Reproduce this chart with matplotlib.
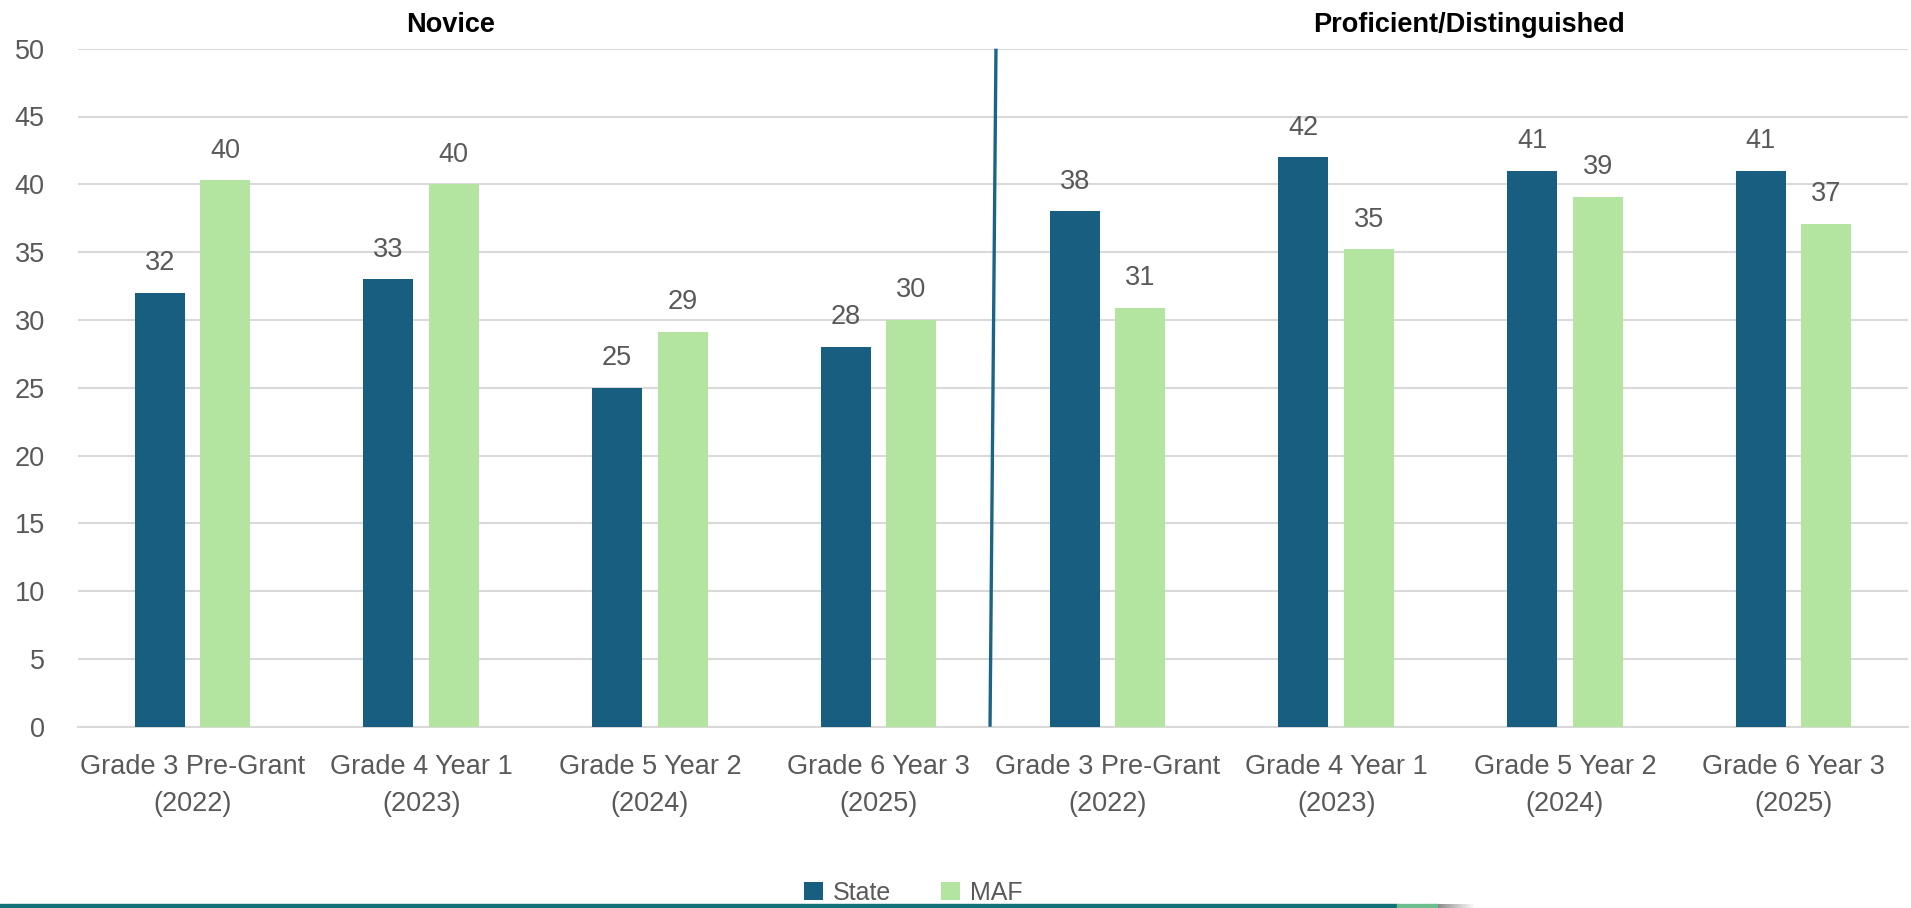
import matplotlib
matplotlib.use("Agg")
import matplotlib.pyplot as plt
from matplotlib import font_manager
from matplotlib.patches import Rectangle
import numpy as np

categories = ["Grade 3 Pre-Grant\n(2022)", "Grade 4 Year 1\n(2023)", "Grade 5 Year 2\n(2024)", "Grade 6 Year 3\n(2025)",
              "Grade 3 Pre-Grant\n(2022)", "Grade 4 Year 1\n(2023)", "Grade 5 Year 2\n(2024)", "Grade 6 Year 3\n(2025)"]
state_values = [32, 33, 25, 28, 38, 42, 41, 41]
maf_values = [40.3, 40, 29.1, 30, 30.9, 35.2, 39.1, 37.1]
series_names = ["State", "MAF"]
group_titles = ["Novice", "Proficient/Distinguished"]
yticks = [0, 5, 10, 15, 20, 25, 30, 35, 40, 45, 50]

available = {f.name for f in font_manager.fontManager.ttflist}
narrow = "Liberation Sans Narrow" if "Liberation Sans Narrow" in available else "Liberation Sans"
plt.rcParams['font.family'] = [narrow, 'DejaVu Sans']

STATE_C = "#175E80"
MAF_C = "#B3E5A1"
TXT = "#595959"
GRID = "#D9D9D9"

fig = plt.figure(figsize=(19.11, 9.08), dpi=100)
ax = fig.add_axes([78/1911, 1-726.7/908, (1908-78)/1911, (726.7-48.7)/908])

x = np.arange(len(categories))
w = 0.219
off = 0.143
b1 = ax.bar(x - off, state_values, w, color=STATE_C, label=series_names[0], zorder=3)
b2 = ax.bar(x + off, maf_values, w, color=MAF_C, label=series_names[1], zorder=3)

for bars in (b1, b2):
    for r in bars:
        h = r.get_height()
        ax.annotate(f"{h:.0f}", (r.get_x() + r.get_width()/2, h), xytext=(0, 12),
                    textcoords="offset points", ha="center", va="bottom",
                    fontsize=19.5, color=TXT)

ax.set_xlim(-0.5, len(categories) - 0.5)
ax.set_ylim(0, 50)
ax.set_yticks(yticks)
ax.set_xticks(x)
ax.set_xticklabels(categories, fontsize=19.5, color=TXT, linespacing=1.55)
ax.tick_params(axis='y', labelsize=19.5, labelcolor=TXT, length=0, pad=24)
ax.tick_params(axis='x', length=0, pad=20)
ax.yaxis.grid(True, color=GRID, linewidth=1.5, zorder=0)
ax.set_axisbelow(True)
for s in ["top", "right", "left"]:
    ax.spines[s].set_visible(False)
ax.spines["bottom"].set_color(GRID)
ax.spines["bottom"].set_linewidth(1.5)

# divider between groups
ax.plot([3.513, 3.487], [50, 0], color="#1A6488", linewidth=2.4, zorder=4, clip_on=False,
        solid_capstyle="butt")

# group titles
fig.text(451/1911, 1-25/908, group_titles[0], ha="center", va="center", fontsize=19.5,
         fontweight="bold", color="black")
fig.text(1469/1911, 1-25/908, group_titles[1], ha="center", va="center", fontsize=19.5,
         fontweight="bold", color="black")

# legend
fig.legend(handles=[b1, b2], labels=series_names, loc="center", bbox_to_anchor=(913/1911, 1-893/908),
           ncol=2, frameon=False, fontsize=18, labelcolor=TXT, handlelength=0.75, handleheight=0.75,
           handletextpad=0.4, columnspacing=2.0)

# bottom decorative rule
fig.patches.append(Rectangle((0, 0), 1397/1911, 4/908, transform=fig.transFigure, color="#0F7377", zorder=5))
fig.patches.append(Rectangle((1397/1911, 0), 41/1911, 4/908, transform=fig.transFigure, color="#6BBF8E", zorder=5))
grad = np.linspace(0, 1, 64)
for i in range(len(grad) - 1):
    g = 0.55 + 0.45 * grad[i]
    fig.patches.append(Rectangle(((1438 + 37*grad[i])/1911, 0), (37/63 + 0.3)/1911, 4/908,
                                 transform=fig.transFigure, color=(g, g, g), zorder=5, linewidth=0))

fig.savefig("out.png", dpi=100)
